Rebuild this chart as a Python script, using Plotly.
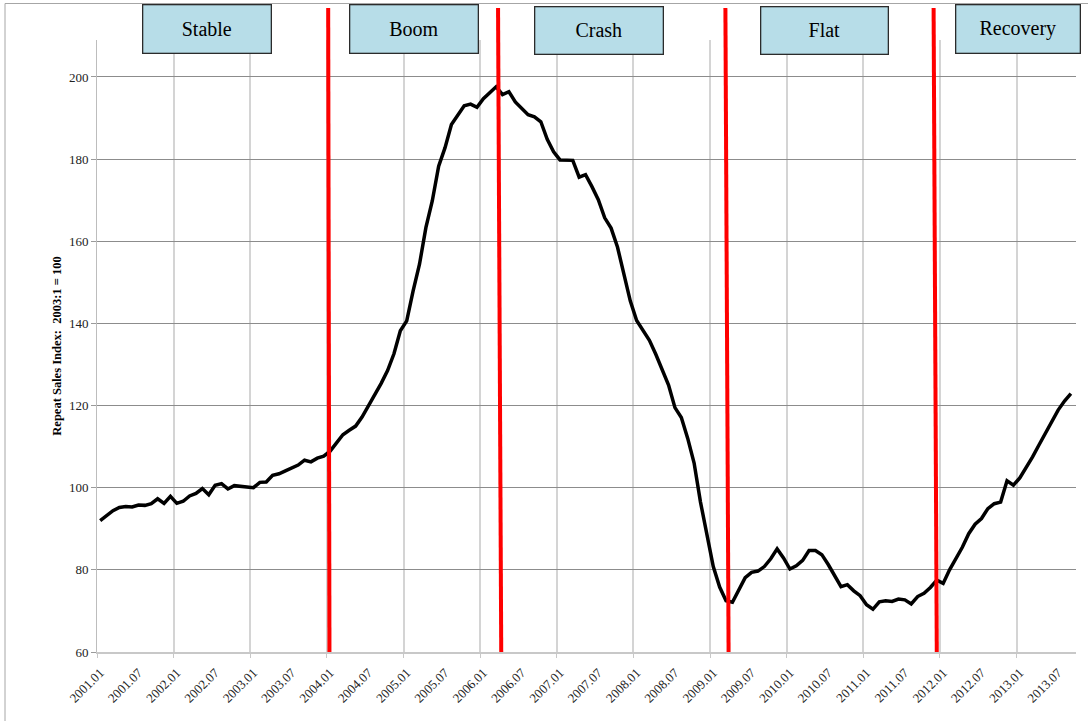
import plotly.graph_objects as go

# Repeat sales index, monthly from 2001.01 to 2013.09 (2003:1 = 100)
start_year = 2001
index_values = [
    92.0, 93.1, 94.4, 95.2, 95.4, 95.3, 95.8, 95.7, 96.1, 97.3, 96.2, 97.9,   # 2001
    96.2, 96.7, 98.0, 98.6, 99.8, 98.3, 100.6, 101.0, 99.7, 100.5, 100.4, 100.2,  # 2002
    100.0, 101.3, 101.4, 103.0, 103.4, 104.1, 104.7, 105.5, 106.7, 106.3, 107.2, 107.7,  # 2003
    108.9, 110.8, 112.9, 114.0, 115.0, 117.2, 119.9, 122.5, 125.4, 128.5, 132.6, 138.2,  # 2004
    140.6, 147.9, 154.4, 163.3, 169.8, 178.3, 182.8, 188.4, 190.9, 193.0, 193.4, 192.6,  # 2005
    194.7, 196.1, 197.6, 195.7, 196.4, 193.9, 192.3, 190.8, 190.3, 189.1, 184.8, 181.8,  # 2006
    179.8, 179.8, 179.7, 175.6, 176.2, 173.3, 170.1, 165.7, 163.2, 158.6, 152.3, 145.5,  # 2007
    140.7, 138.2, 135.9, 132.5, 128.9, 125.0, 119.5, 117.1, 112.0, 106.0, 96.5, 88.5,    # 2008
    80.8, 75.8, 72.5, 72.1, 74.9, 78.1, 79.4, 79.7, 80.8, 82.7, 85.1, 82.9,              # 2009
    80.2, 81.0, 82.3, 84.7, 84.7, 83.7, 81.3, 78.8, 75.9, 76.4, 74.9, 73.7,              # 2010
    71.5, 70.4, 72.2, 72.5, 72.3, 72.9, 72.7, 71.7, 73.5, 74.3, 75.7, 77.5,              # 2011
    76.7, 80.0, 82.7, 85.5, 88.8, 91.1, 92.5, 94.9, 96.1, 96.5, 101.7, 100.6,            # 2012
    102.4, 104.8, 107.5, 110.4, 113.1, 116.1, 118.9, 121.1, 122.9,                       # 2013
]

tick_labels = [
    "2001.01", "2001.07", "2002.01", "2002.07", "2003.01", "2003.07",
    "2004.01", "2004.07", "2005.01", "2005.07", "2006.01", "2006.07",
    "2007.01", "2007.07", "2008.01", "2008.07", "2009.01", "2009.07",
    "2010.01", "2010.07", "2011.01", "2011.07", "2012.01", "2012.07",
    "2013.01", "2013.07",
]
y_ticks = [60, 80, 100, 120, 140, 160, 180, 200]

phase_names = ["Stable", "Boom", "Crash", "Flat", "Recovery"]
# phase break positions in month index (bottom, top of the hand-drawn red lines)
break_bottom = [35.9, 62.8, 98.4, 131.0]
break_top = [35.7, 62.3, 97.9, 130.5]

# month index for each observation and for each tick label
month_idx = list(range(len(index_values)))
tick_pos = [(int(t[:4]) - start_year) * 12 + int(t[5:]) - 1 for t in tick_labels]

SERIF = "Liberation Serif, Times New Roman, serif"

fig = go.Figure()
fig.add_trace(go.Scatter(
    x=month_idx, y=index_values, mode="lines",
    line=dict(color="black", width=3.5),
    hoverinfo="skip", showlegend=False,
))

# plot area in pixels: left 97, right 1076, top 40, bottom 652
L, R, T, B = 97, 12, 40, 69
W, H = 1088, 721
pw, ph = W - L - R, H - T - B


def px_x(px):
    return (px - L) / pw


def px_y(py):
    return (H - B - py) / ph


shapes = []
for xb, xt in zip(break_bottom, break_top):
    shapes.append(dict(type="line", xref="x", yref="paper",
                       x0=xb, x1=xt, y0=0, y1=px_y(8),
                       line=dict(color="#FF0000", width=4), layer="above"))
# outer frame (left and top edges visible)
shapes.append(dict(type="line", xref="paper", yref="paper",
                   x0=px_x(5), x1=px_x(5), y0=px_y(3.5), y1=px_y(730),
                   line=dict(color="#A6A6A6", width=1)))
shapes.append(dict(type="line", xref="paper", yref="paper",
                   x0=px_x(5), x1=px_x(1100), y0=px_y(3.5), y1=px_y(3.5),
                   line=dict(color="#A6A6A6", width=1)))

# phase label boxes (pixel boxes: left, right, top, bottom)
boxes = [(142, 271, 4, 53), (349, 478, 4, 53), (534, 663, 6, 54),
         (760, 888, 6, 54), (955, 1080, 4, 53)]
annotations = []
for name, (bl, br, bt, bb) in zip(phase_names, boxes):
    annotations.append(dict(
        text=name, xref="paper", yref="paper",
        x=px_x((bl + br) / 2), y=px_y((bt + bb) / 2),
        xanchor="center", yanchor="middle", showarrow=False,
        width=br - bl - 2, height=bb - bt - 2,
        bgcolor="#B7DDE8", bordercolor="#2B2B2B", borderwidth=1.3, borderpad=0,
        font=dict(family=SERIF, size=20, color="black"),
    ))

fig.update_layout(
    width=W, height=H,
    margin=dict(l=L, r=R, t=T, b=B),
    paper_bgcolor="white", plot_bgcolor="white",
    shapes=shapes, annotations=annotations,
    xaxis=dict(
        range=[-0.5, 152.8], tickmode="array", tickvals=tick_pos, ticktext=tick_labels,
        tickangle=-45, ticks="", showgrid=False, zeroline=False, ticklabelstandoff=6,
        showline=True, linecolor="#C8C8C8", linewidth=2,
        tickfont=dict(family=SERIF, size=13, color="#222222"),
        minor=dict(tickmode="linear", tick0=-0.5, dtick=12, showgrid=True,
                   gridcolor="#D4D4D4", gridwidth=1.5, ticks="outside",
                   ticklen=4, tickcolor="#C8C8C8"),
    ),
    yaxis=dict(
        range=[60, 209], tickmode="array", tickvals=y_ticks,
        showgrid=True, gridcolor="#8C8C8C", gridwidth=1, zeroline=False,
        showline=True, linecolor="#BDBDBD", linewidth=1,
        ticks="outside", ticklen=5, tickcolor="#9A9A9A",
        tickfont=dict(family=SERIF, size=13, color="#222222"),
        title=dict(text="<b>Repeat Sales Index:  2003:1 = 100</b>",
                   font=dict(family=SERIF, size=12.5, color="black"), standoff=4),
    ),
)

fig.write_html("out.html", config={"displayModeBar": False},
               post_script="document.body.style.margin='0px';")
